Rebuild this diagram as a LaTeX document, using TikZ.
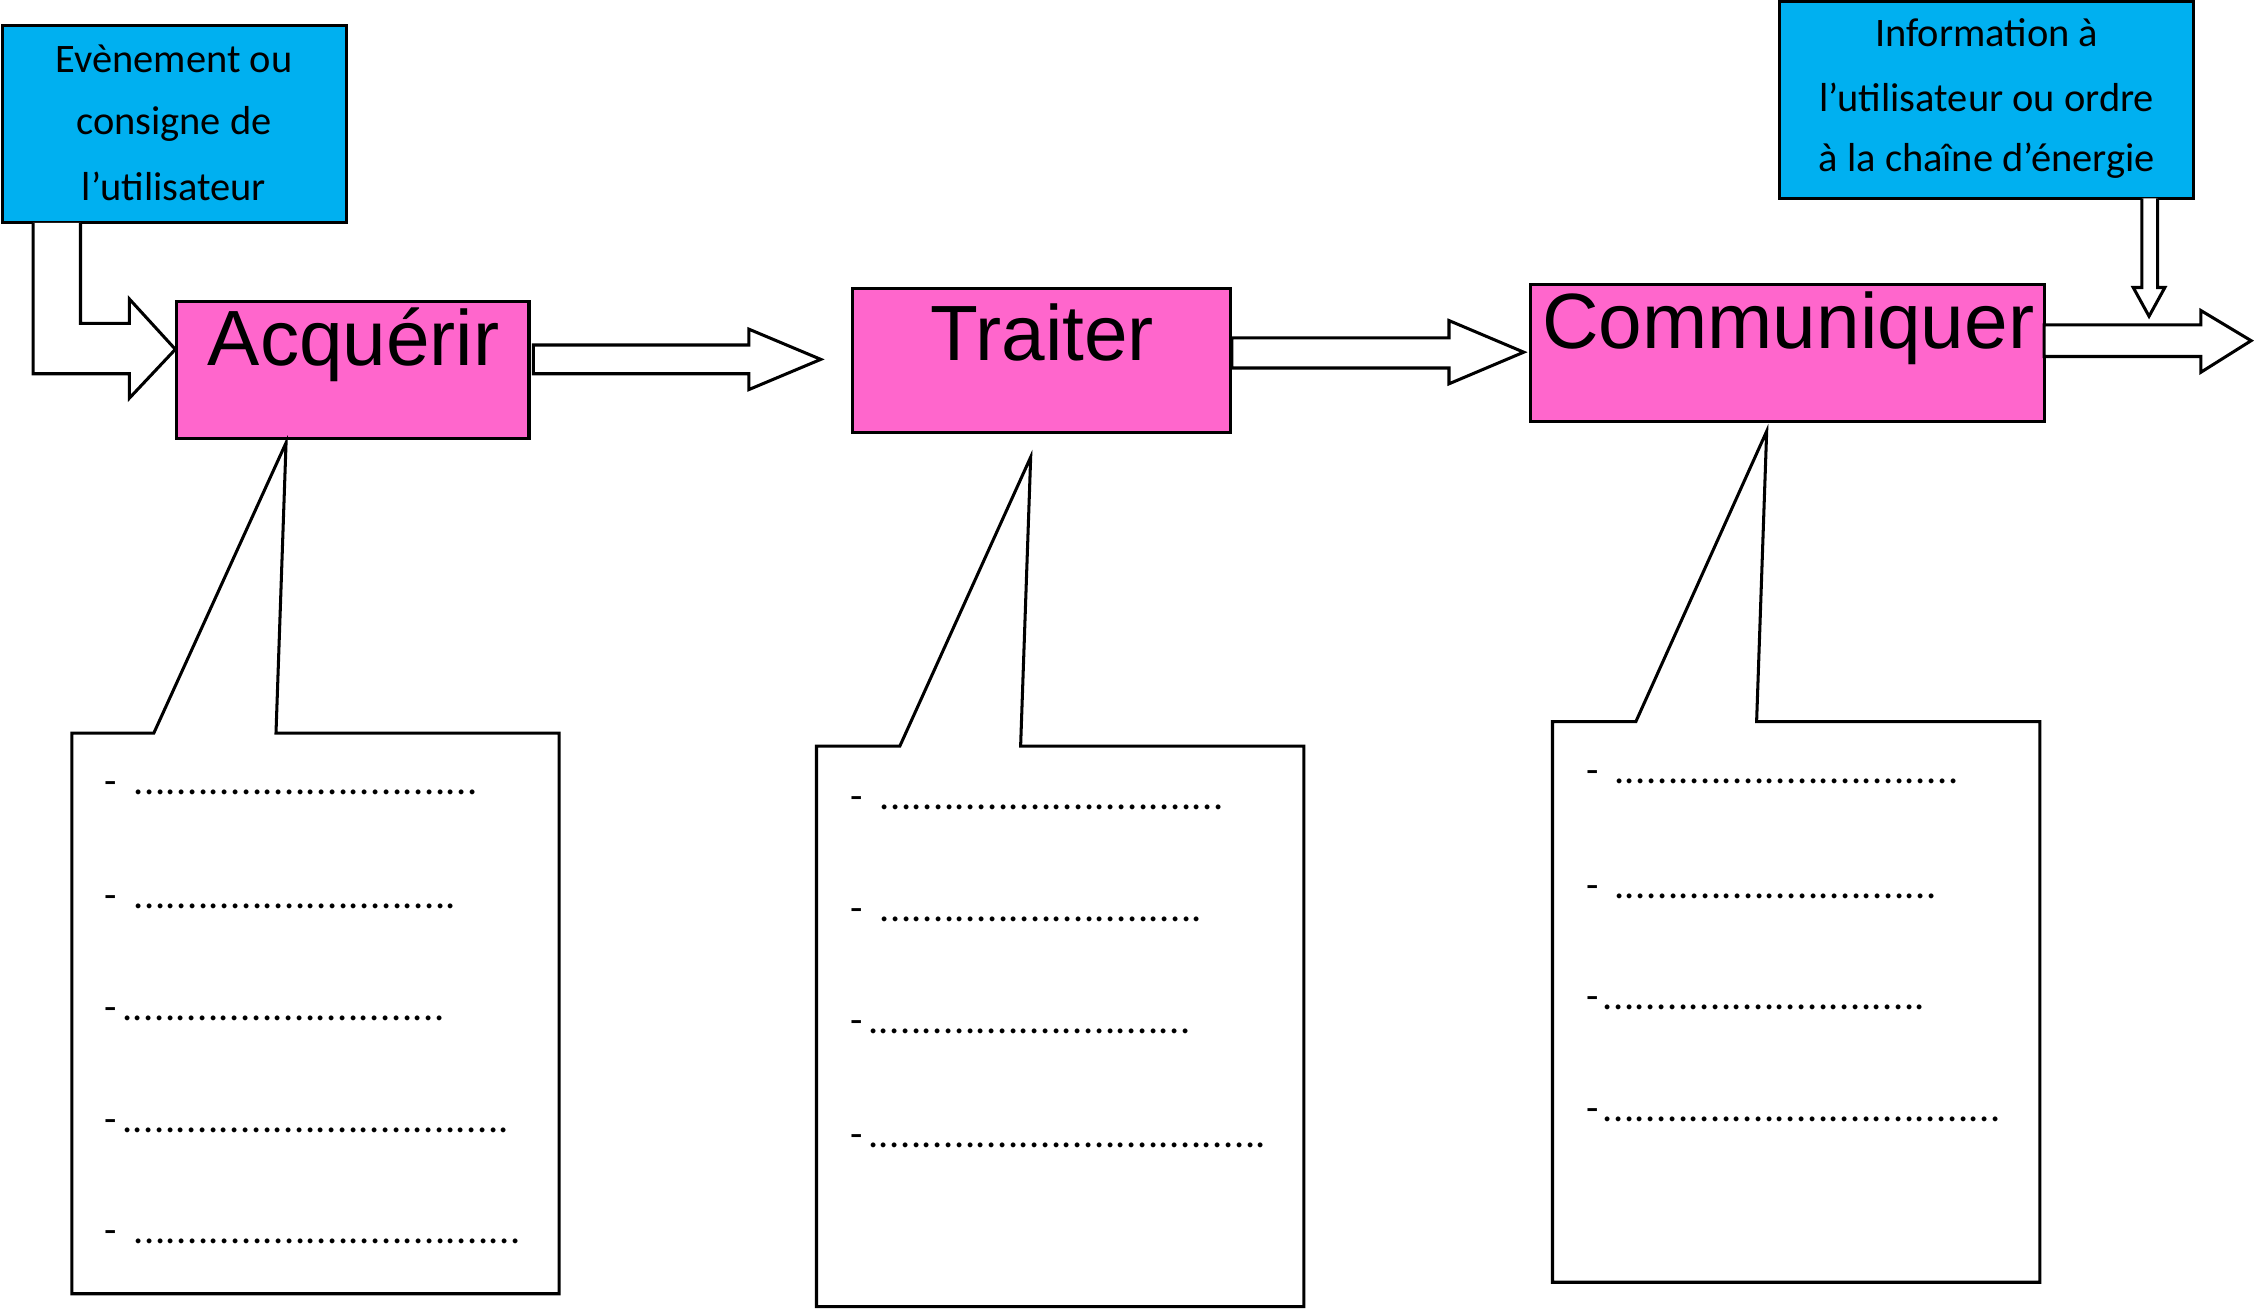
\documentclass[tikz,border=0pt]{standalone}
\usepackage{fontspec}
\setmainfont{Carlito}
\newfontfamily\arialf{Liberation Sans}
\newcommand{\dts}[1]{\hbox to #1cm{\leaders\hbox to 0.075cm{\hss.\hss}\hfill}}
\begin{document}
\begin{tikzpicture}[x=0.01cm,y=-0.01cm,
  blue/.style={draw=black,line width=0.6pt,fill=cyan!70!blue!60!white},
  pink/.style={draw=black,line width=0.6pt,fill=magenta!60!pink},
  arr/.style={draw=black,line width=0.6pt,fill=white},
  btxt/.style={font=\fontsize{8}{10}\selectfont,anchor=center,inner sep=0},
  ptxt/.style={font=\arialf\fontsize{15.5}{18}\selectfont,anchor=center,inner sep=0},
  dsh/.style={font=\fontsize{8}{10}\selectfont,anchor=base west,inner sep=0},
  call/.style={draw=black,line width=0.6pt,fill=white}]
\useasboundingbox (0,0) rectangle (1568,912);
\definecolor{cb}{RGB}{0,176,240}\definecolor{cp}{RGB}{255,102,204}
% blue boxes
\path[blue,fill=cb] (2,18) rectangle (241,155);
\node[btxt] (e1) at (121,41) {Evènement ou};
\node[btxt] (e2) at (121,86) {consigne de};
\node[btxt] (e3) at (121,130) {l’utilisateur};
\path[blue,fill=cb] (1238,1) rectangle (1526,138);
\node[btxt] (i1) at (1382,23) {Information à};
\node[btxt] (i2) at (1382,68) {l’utilisateur ou ordre};
\node[btxt] (i3) at (1382,112) {à la chaîne d’énergie};
% pink boxes
\path[pink,fill=cp] (123,210) rectangle (368,305);
\node[ptxt] (a) at (246,240) {Acquérir};
\path[pink,fill=cp] (593,201) rectangle (856,301);
\node[ptxt] (t) at (725,231) {Traiter};
\path[pink,fill=cp] (1065,198) rectangle (1422,293);
\node[ptxt] (c) at (1244,228) {Communiquer};
% arrows
\path[arr] (23,155)--(23,260)--(90,260)--(90,277)--(122,243)--(90,208)--(90,225)--(56,225)--(56,155);
\path[arr] (371,240)--(521,240)--(521,229)--(571,250)--(521,271)--(521,260)--(371,260)--cycle;
\path[arr] (857,235)--(1008,235)--(1008,223)--(1060,245)--(1008,267)--(1008,256)--(857,256)--cycle;
\path[arr] (1422,226)--(1531,226)--(1531,216)--(1566,237)--(1531,259)--(1531,248)--(1422,248)--cycle;
\path[arr] (1490,138)--(1490,200)--(1484,200)--(1495,220)--(1506,200)--(1501,200)--(1501,138);
% callouts
\path[call] (50,510)--(107,510)--(199,308)--(192,510)--(389,510)--(389,900)--(50,900)--cycle;
\path[call] (568,519)--(626,519)--(717,318)--(710,519)--(907,519)--(907,909)--(568,909)--cycle;
\path[call] (1080,502)--(1138,502)--(1229,300)--(1222,502)--(1419,502)--(1419,892)--(1080,892)--cycle;
% lines
\foreach \n/\x/\y/\dx/\w in {a1/72/553/92/2.46, a2/72/632/92/2.30, a3/72/710/84/2.31, a4/72/788/84/2.71, a5/72/865/92/2.70,
  b1/591/563/611/2.46, b2/591/641/611/2.31, b3/591/719/603/2.31, b4/591/798/603/2.79,
  c1/1103/545/1122/2.46, c2/1103/625/1122/2.31, c3/1103/702/1114/2.31, c4/1103/780/1114/2.79}{
  \node[dsh] (\n) at (\x,\y) {-};
  \node[dsh] (\n d) at (\dx,\y) {\dts{\w}};
}
\end{tikzpicture}
\end{document}
